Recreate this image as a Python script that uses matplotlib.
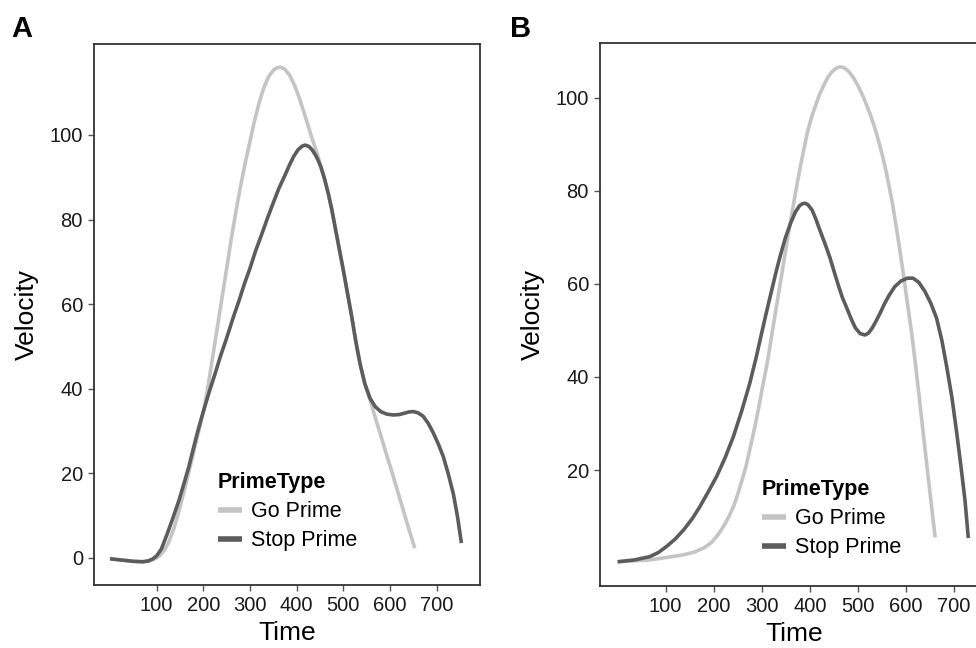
import matplotlib
matplotlib.use("Agg")
import matplotlib.pyplot as plt

plt.rcParams['font.family'] = ['Liberation Sans', 'DejaVu Sans']

# panel A values
a_go_time = [0, 25, 50, 70, 85, 95, 105, 115, 125, 137, 150, 162, 175, 188, 201, 210,
             220, 230, 240, 250, 260, 270, 280, 290, 300, 310, 320, 330, 340, 350, 358,
             366, 374, 385, 396, 407, 420, 432, 444, 452, 460, 468, 475, 487, 500, 509, 518,
             527, 536, 546, 557, 568, 580, 592, 605, 617, 630, 641, 653]
a_go_vel = [-0.2, -0.5, -0.8, -0.9, -0.7, -0.3, 0.4, 1.6, 3.5, 7, 12, 17.2, 23, 29, 35, 40.5,
            47.5, 54.5, 61.5, 68.5, 75.5, 82, 88, 93.5, 98.5, 103.5, 107.8, 111.3, 113.8, 115.3, 115.9,
            116, 115.6, 114.1, 111.6, 108.3, 103.8, 99.5, 95.6, 92.4, 89.5, 86, 82.5, 75.5, 68, 62.5, 57,
            51, 45.8, 41.2, 37.4, 33.3, 29, 24.6, 20, 15.5, 10.7, 6.6, 2.3]
a_stop_time = [0, 25, 50, 70, 82, 92, 100, 110, 123, 135, 148, 158, 169, 178, 187, 194,
               201, 213, 225, 237, 250, 263, 277, 288, 300, 312, 325, 337, 350, 362, 375,
               385, 394, 403, 411, 418, 426, 433, 440, 446, 452, 460, 468, 475, 487, 500, 509,
               518, 527, 536, 546, 557, 568, 580, 593, 607, 620, 630, 640, 650, 660, 671,
               682, 693, 704, 714, 725, 736, 745, 753]
a_stop_vel = [-0.2, -0.5, -0.8, -0.9, -0.7, -0.2, 0.5, 2.1, 5.8, 9.5, 13.7, 17.4, 21.6, 25.6, 29.5, 32.3,
              35, 39.4, 43.5, 47.8, 52, 56.5, 61, 64.8, 68.5, 72.6, 76.5, 80.2, 84, 87.4, 90.5,
              93, 95, 96.5, 97.3, 97.6, 97.3, 96.5, 95.3, 94, 92.4, 89.5, 86, 82.5, 75.5, 68, 62.5,
              57, 51, 45.8, 41.2, 37.8, 35.8, 34.6, 34, 33.8, 33.9, 34.2, 34.5, 34.6, 34.3, 33.5,
              31.8, 29.5, 26.8, 24, 19.8, 15, 9.5, 3.5]

# panel B values
b_go_time = [0, 35, 67, 100, 137, 160, 180, 195, 206, 215, 225, 233, 241, 250, 258, 267,
             275, 284, 293, 301, 310, 317, 324, 332, 340, 350, 360, 370, 380, 388, 395,
             403, 411, 420, 430, 438, 446, 455, 463, 471, 480, 490, 500, 512, 525, 535,
             545, 553, 560, 572, 584, 593, 603, 612, 620, 628, 635, 643, 650, 656, 661]
b_go_vel = [0.3, 0.5, 0.7, 1.2, 1.8, 2.4, 3.3, 4.4, 5.7, 7, 8.7, 10.3, 12.1, 14.8, 17.5, 20.7,
            24.3, 28.5, 33, 37.5, 42.2, 46.5, 51, 56, 61, 67.3, 73.5, 79.4, 85, 89, 92.5,
            95.5, 98, 100.6, 102.8, 104.4, 105.5, 106.3, 106.6, 106.4, 105.7, 104.4, 102.6, 100, 96.6, 93.6,
            90, 86.8, 83.6, 77.3, 69.6, 63.4, 56, 49.5, 42.7, 35.5, 29, 21.7, 15.3, 10, 5.5]
b_stop_time = [0, 35, 67, 85, 102, 120, 137, 155, 171, 188, 206, 224, 241, 258, 275, 288,
               300, 310, 320, 329, 338, 349, 360, 370, 379, 385, 390, 396, 405, 413, 420,
               431, 442, 451, 460, 468, 477, 486, 495, 505, 515, 522, 530, 538, 546, 555,
               565, 577, 590, 603, 615, 627, 640, 652, 664, 675, 685, 696, 706, 715, 723, 730]
b_stop_vel = [0.3, 0.7, 1.4, 2.3, 3.6, 5.2, 7.1, 9.5, 12.1, 15.2, 18.6, 22.7, 27.2, 32.6, 38.6, 44,
              49.5, 54, 58.3, 62.2, 65.8, 69.8, 73, 75.4, 76.8, 77.2, 77.3, 77, 75.8, 73.8, 71.8,
              68.8, 65.6, 62.5, 59.5, 57, 54.8, 52.5, 50.5, 49.3, 49, 49.4, 50.5, 52, 53.6, 55.6,
              57.5, 59.4, 60.6, 61.2, 61.2, 60.3, 58.3, 55.8, 52.6, 47.8, 42.2, 35.5, 27.9, 20.5, 13.6, 5.4]

a_yticks = [0, 20, 40, 60, 80, 100]
b_yticks = [20, 40, 60, 80, 100]
xticks = [100, 200, 300, 400, 500, 600, 700]
labels = ['Go Prime', 'Stop Prime']

go_col = '#c4c4c4'
stop_col = '#5c5c5c'

fig = plt.figure(figsize=(9.76, 6.48), dpi=100)
axA = fig.add_axes([0.0963, 0.0972, 0.3955, 0.8349])
axB = fig.add_axes([0.6148, 0.0957, 0.3975, 0.8379])


def style(ax, yticks, xlim, ylim, leg_xy):
    ax.set_xlim(*xlim)
    ax.set_ylim(*ylim)
    ax.set_xticks(xticks)
    ax.set_yticks(yticks)
    ax.tick_params(length=4, width=1, color='#555555', labelsize=14.5,
                   labelcolor='#1a1a1a', pad=4)
    for s in ax.spines.values():
        s.set_color('#333333')
        s.set_linewidth(1.3)
    ax.set_xlabel('Time', fontsize=19, labelpad=4)
    ax.set_ylabel('Velocity', fontsize=19, labelpad=8)
    leg = ax.legend(title='PrimeType', loc='upper left', bbox_to_anchor=leg_xy,
                    frameon=False, fontsize=15.5, title_fontsize=15.5, alignment='left',
                    handlelength=1.1, handletextpad=0.45, labelspacing=0.38,
                    borderpad=0, borderaxespad=0)
    leg.get_title().set_fontweight('bold')
    for h in leg.legend_handles:
        h.set_linewidth(4)


axA.plot(a_go_time, a_go_vel, color=go_col, lw=2.6, solid_capstyle='butt', label=labels[0])
axA.plot(a_stop_time, a_stop_vel, color=stop_col, lw=2.6, solid_capstyle='butt', label=labels[1])
style(axA, a_yticks, (-34.3, 792.8), (-6.4, 121.5), (0.321, 0.209))

axB.plot(b_go_time, b_go_vel, color=go_col, lw=2.6, solid_capstyle='butt', label=labels[0])
axB.plot(b_stop_time, b_stop_vel, color=stop_col, lw=2.6, solid_capstyle='butt', label=labels[1])
style(axB, b_yticks, (-36.6, 771), (-4.9, 111.7), (0.4175, 0.197))

fig.text(0.012, 0.955, 'A', fontsize=21, fontweight='bold', va='center')
fig.text(0.523, 0.955, 'B', fontsize=21, fontweight='bold', va='center')

fig.savefig('out.png', dpi=100)
